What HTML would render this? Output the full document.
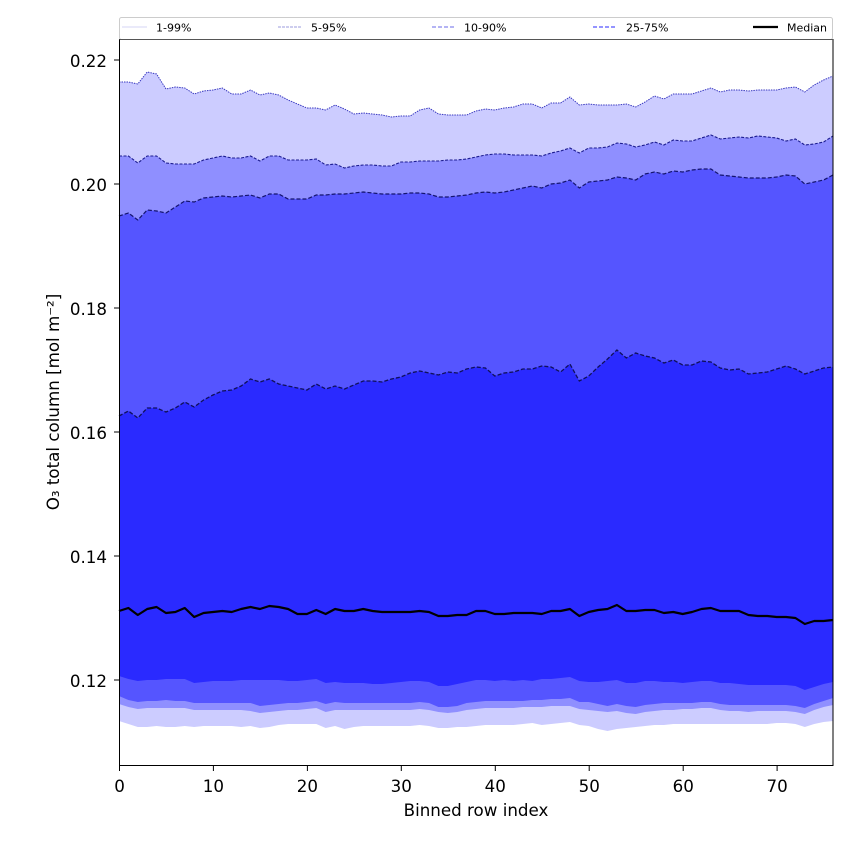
<!DOCTYPE html>
<html><head><meta charset="utf-8"><style>
html,body{margin:0;padding:0;background:#fff;}
svg{display:block;}
text{font-family:"DejaVu Sans","Liberation Sans",sans-serif;fill:#000;}
</style></head><body>
<svg width="850" height="850" viewBox="0 0 850 850" xmlns="http://www.w3.org/2000/svg">
<rect width="850" height="850" fill="#fff"/>
<g id="plot" transform="matrix(9.3947 0 0 1 119 0)"></g>
<g transform="matrix(9.3947 0 0 1 119 0)">
<polygon fill="#ccccff" points="0,82 1,82 2,84 3,72 4,74 5,89 6,87 7,88 8,94 9,91 10,90 11,88 12,94 13,94 14,90 15,95 16,93 17,95 18,100 19,104 20,108 21,108 22,110 23,105 24,109 25,114 26,113 27,114 28,115 29,117 30,116 31,116 32,110 33,108 34,114 35,115 36,115 37,115 38,111 39,109 40,110 41,108 42,107 43,104 44,104 45,108 46,103 47,103 48,97 49,105 50,104 51,105 52,105 53,105 54,104 55,107 56,102 57,96 58,99 59,94 60,94 61,94 62,91 63,88 64,92 65,90 66,90 67,91 68,90 69,90 70,90 71,88 72,87 73,92 74,85 75,80 76,76 76,721 75,722 74,724 73,727 72,724 71,723 70,723 69,724 68,724 67,724 66,724 65,724 64,724 63,724 62,724 61,724 60,724 59,724 58,725 57,725 56,726 55,727 54,728 53,729 52,731 51,729 50,726 49,725 48,722 47,723 46,724 45,725 44,723 43,724 42,725 41,725 40,725 39,725 38,726 37,727 36,727 35,728 34,728 33,726 32,725 31,726 30,726 29,726 28,726 27,726 26,726 25,727 24,729 23,726 22,728 21,724 20,724 19,724 18,724 17,725 16,727 15,728 14,726 13,727 12,726 11,726 10,726 9,726 8,727 7,726 6,727 5,727 4,726 3,727 2,727 1,724 0,721"/>
<polygon fill="#8f8fff" points="0,156 1,156 2,163 3,156 4,156 5,163 6,164 7,164 8,164 9,160 10,158 11,156 12,158 13,158 14,156 15,161 16,156 17,156 18,160 19,160 20,160 21,159 22,165 23,164 24,168 25,166 26,165 27,165 28,166 29,166 30,162 31,162 32,161 33,161 34,161 35,160 36,160 37,159 38,157 39,155 40,154 41,154 42,155 43,155 44,155 45,156 46,153 47,151 48,148 49,153 50,148 51,148 52,147 53,143 54,144 55,147 56,145 57,142 58,145 59,140 60,141 61,141 62,138 63,135 64,139 65,138 66,137 67,138 68,136 69,137 70,138 71,141 72,139 73,145 74,144 75,142 76,136 76,705 75,707 74,710 73,714 72,712 71,711 70,711 69,711 68,711 67,712 66,711 65,711 64,710 63,708 62,708 61,709 60,709 59,710 58,710 57,711 56,712 55,714 54,713 53,711 52,712 51,711 50,710 49,709 48,706 47,706 46,706 45,707 44,707 43,707 42,708 41,708 40,708 39,708 38,709 37,710 36,712 35,713 34,712 33,710 32,709 31,710 30,710 29,710 28,710 27,710 26,710 25,710 24,710 23,710 22,712 21,708 20,709 19,710 18,710 17,711 16,712 15,713 14,711 13,710 12,710 11,710 10,710 9,710 8,710 7,708 6,708 5,708 4,708 3,708 2,709 1,707 0,704"/>
<polygon fill="#5555ff" points="0,216 1,213 2,220 3,210 4,211 5,213 6,207 7,201 8,202 9,198 10,197 11,196 12,197 13,196 14,195 15,198 16,194 17,194 18,199 19,199 20,199 21,195 22,195 23,194 24,194 25,193 26,192 27,193 28,194 29,194 30,194 31,193 32,193 33,194 34,197 35,197 36,196 37,195 38,193 39,192 40,193 41,192 42,190 43,188 44,186 45,188 46,184 47,183 48,180 49,188 50,182 51,181 52,180 53,177 54,178 55,180 56,174 57,172 58,174 59,171 60,172 61,170 62,169 63,169 64,175 65,176 66,177 67,178 68,178 69,178 70,177 71,175 72,176 73,184 74,182 75,180 76,175 76,698 75,701 74,704 73,708 72,706 71,705 70,705 69,705 68,705 67,705 66,705 65,705 64,704 63,702 62,702 61,703 60,703 59,703 58,703 57,704 56,705 55,707 54,706 53,704 52,706 51,704 50,702 49,702 48,698 47,699 46,699 45,700 44,700 43,701 42,701 41,701 40,701 39,701 38,702 37,703 36,706 35,707 34,707 33,703 32,702 31,703 30,703 29,703 28,703 27,703 26,703 25,703 24,703 23,702 22,704 21,701 20,702 19,703 18,703 17,704 16,705 15,706 14,703 13,703 12,703 11,703 10,703 9,703 8,703 7,701 6,701 5,700 4,701 3,701 2,702 1,700 0,696"/>
<polygon fill="#2a2aff" points="0,416 1,411 2,418 3,408 4,408 5,412 6,408 7,402 8,407 9,400 10,395 11,391 12,390 13,386 14,379 15,382 16,379 17,384 18,386 19,388 20,390 21,384 22,389 23,386 24,389 25,385 26,381 27,381 28,382 29,379 30,377 31,373 32,371 33,373 34,375 35,372 36,373 37,369 38,367 39,368 40,376 41,373 42,372 43,369 44,369 45,366 46,367 47,372 48,364 49,381 50,376 51,367 52,359 53,350 54,358 55,353 56,356 57,358 58,363 59,360 60,365 61,365 62,361 63,362 64,368 65,370 66,369 67,374 68,373 69,372 70,369 71,366 72,369 73,374 74,371 75,368 76,367 76,682 75,684 74,687 73,690 72,686 71,685 70,685 69,685 68,685 67,685 66,684 65,683 64,683 63,681 62,681 61,682 60,683 59,682 58,682 57,681 56,681 55,683 54,683 53,680 52,681 51,682 50,682 49,681 48,677 47,678 46,679 45,679 44,681 43,680 42,681 41,680 40,681 39,680 38,680 37,682 36,684 35,686 34,686 33,682 32,681 31,681 30,682 29,683 28,684 27,684 26,683 25,683 24,683 23,682 22,683 21,679 20,680 19,681 18,681 17,680 16,680 15,680 14,680 13,680 12,681 11,681 10,681 9,682 8,683 7,679 6,679 5,679 4,680 3,680 2,681 1,679 0,676"/>
<g fill="none" vector-effect="non-scaling-stroke">
<polyline stroke="#3a3ac0" stroke-width="1" vector-effect="non-scaling-stroke" stroke-dasharray="1.5,1" points="0,82 1,82 2,84 3,72 4,74 5,89 6,87 7,88 8,94 9,91 10,90 11,88 12,94 13,94 14,90 15,95 16,93 17,95 18,100 19,104 20,108 21,108 22,110 23,105 24,109 25,114 26,113 27,114 28,115 29,117 30,116 31,116 32,110 33,108 34,114 35,115 36,115 37,115 38,111 39,109 40,110 41,108 42,107 43,104 44,104 45,108 46,103 47,103 48,97 49,105 50,104 51,105 52,105 53,105 54,104 55,107 56,102 57,96 58,99 59,94 60,94 61,94 62,91 63,88 64,92 65,90 66,90 67,91 68,90 69,90 70,90 71,88 72,87 73,92 74,85 75,80 76,76"/>
<polyline stroke="#1c1c90" stroke-width="1.1" vector-effect="non-scaling-stroke" stroke-dasharray="3,1.5" points="0,156 1,156 2,163 3,156 4,156 5,163 6,164 7,164 8,164 9,160 10,158 11,156 12,158 13,158 14,156 15,161 16,156 17,156 18,160 19,160 20,160 21,159 22,165 23,164 24,168 25,166 26,165 27,165 28,166 29,166 30,162 31,162 32,161 33,161 34,161 35,160 36,160 37,159 38,157 39,155 40,154 41,154 42,155 43,155 44,155 45,156 46,153 47,151 48,148 49,153 50,148 51,148 52,147 53,143 54,144 55,147 56,145 57,142 58,145 59,140 60,141 61,141 62,138 63,135 64,139 65,138 66,137 67,138 68,136 69,137 70,138 71,141 72,139 73,145 74,144 75,142 76,136"/>
<polyline stroke="#14146e" stroke-width="1.2" vector-effect="non-scaling-stroke" stroke-dasharray="4,2" points="0,216 1,213 2,220 3,210 4,211 5,213 6,207 7,201 8,202 9,198 10,197 11,196 12,197 13,196 14,195 15,198 16,194 17,194 18,199 19,199 20,199 21,195 22,195 23,194 24,194 25,193 26,192 27,193 28,194 29,194 30,194 31,193 32,193 33,194 34,197 35,197 36,196 37,195 38,193 39,192 40,193 41,192 42,190 43,188 44,186 45,188 46,184 47,183 48,180 49,188 50,182 51,181 52,180 53,177 54,178 55,180 56,174 57,172 58,174 59,171 60,172 61,170 62,169 63,169 64,175 65,176 66,177 67,178 68,178 69,178 70,177 71,175 72,176 73,184 74,182 75,180 76,175"/>
<polyline stroke="#10105a" stroke-width="1.3" vector-effect="non-scaling-stroke" stroke-dasharray="4,2" points="0,416 1,411 2,418 3,408 4,408 5,412 6,408 7,402 8,407 9,400 10,395 11,391 12,390 13,386 14,379 15,382 16,379 17,384 18,386 19,388 20,390 21,384 22,389 23,386 24,389 25,385 26,381 27,381 28,382 29,379 30,377 31,373 32,371 33,373 34,375 35,372 36,373 37,369 38,367 39,368 40,376 41,373 42,372 43,369 44,369 45,366 46,367 47,372 48,364 49,381 50,376 51,367 52,359 53,350 54,358 55,353 56,356 57,358 58,363 59,360 60,365 61,365 62,361 63,362 64,368 65,370 66,369 67,374 68,373 69,372 70,369 71,366 72,369 73,374 74,371 75,368 76,367"/>
<polyline stroke="#000" stroke-width="2.2" stroke-linejoin="round" vector-effect="non-scaling-stroke" points="0,611 1,608 2,615 3,609 4,607 5,613 6,612 7,608 8,617 9,613 10,612 11,611 12,612 13,609 14,607 15,609 16,606 17,607 18,609 19,614 20,614 21,610 22,614 23,609 24,611 25,611 26,609 27,611 28,612 29,612 30,612 31,612 32,611 33,612 34,616 35,616 36,615 37,615 38,611 39,611 40,614 41,614 42,613 43,613 44,613 45,614 46,611 47,611 48,609 49,616 50,612 51,610 52,609 53,605 54,611 55,611 56,610 57,610 58,613 59,612 60,614 61,612 62,609 63,608 64,611 65,611 66,611 67,615 68,616 69,616 70,617 71,617 72,618 73,624 74,621 75,621 76,620"/>
</g>
</g>
<!-- axes frame -->
<rect x="119.5" y="39.5" width="713.5" height="726" fill="none" stroke="#000" stroke-width="1"/>
<!-- y ticks -->
<g stroke="#000" stroke-width="1">
<line x1="114" y1="680" x2="119" y2="680"/>
<line x1="114" y1="556" x2="119" y2="556"/>
<line x1="114" y1="432" x2="119" y2="432"/>
<line x1="114" y1="308" x2="119" y2="308"/>
<line x1="114" y1="184" x2="119" y2="184"/>
<line x1="114" y1="60" x2="119" y2="60"/>
<line x1="119.5" y1="766" x2="119.5" y2="771"/>
<line x1="213.4" y1="766" x2="213.4" y2="771"/>
<line x1="307.4" y1="766" x2="307.4" y2="771"/>
<line x1="401.3" y1="766" x2="401.3" y2="771"/>
<line x1="495.3" y1="766" x2="495.3" y2="771"/>
<line x1="589.2" y1="766" x2="589.2" y2="771"/>
<line x1="683.2" y1="766" x2="683.2" y2="771"/>
<line x1="777.1" y1="766" x2="777.1" y2="771"/>
</g>
<g font-size="16.7" text-anchor="end">
<text x="107" y="687">0.12</text>
<text x="107" y="563">0.14</text>
<text x="107" y="439">0.16</text>
<text x="107" y="315">0.18</text>
<text x="107" y="191">0.20</text>
<text x="107" y="67">0.22</text>
</g>
<g font-size="16.7" text-anchor="middle">
<text x="119.5" y="792">0</text>
<text x="213.4" y="792">10</text>
<text x="307.4" y="792">20</text>
<text x="401.3" y="792">30</text>
<text x="495.3" y="792">40</text>
<text x="589.2" y="792">50</text>
<text x="683.2" y="792">60</text>
<text x="777.1" y="792">70</text>
<text x="476" y="816">Binned row index</text>
</g>
<text font-size="16.7" text-anchor="middle" transform="translate(59,402) rotate(-90)">O₃ total column [mol m⁻²]</text>
<!-- legend -->
<rect x="119.5" y="17.5" width="713" height="22" rx="2" fill="#fff" fill-opacity="0.9" stroke="#cccccc" stroke-width="1"/>
<line x1="119.5" y1="39.5" x2="833" y2="39.5" stroke="#555" stroke-width="1"/>
<g stroke-width="1">
<line x1="122" y1="27" x2="147" y2="27" stroke="#d6d6f5" stroke-width="1"/>
<line x1="278" y1="27" x2="302" y2="27" stroke="#9b9bdd" stroke-width="1" stroke-dasharray="3,1"/>
<line x1="432" y1="27" x2="456" y2="27" stroke="#8888ee" stroke-width="1.3" stroke-dasharray="4,2"/>
<line x1="593" y1="27" x2="617" y2="27" stroke="#7070ff" stroke-width="1.6" stroke-dasharray="4,2"/>
<line x1="753" y1="27" x2="778" y2="27" stroke="#000" stroke-width="2.2"/>
</g>
<g font-size="11">
<text x="156" y="31.5">1-99%</text>
<text x="311" y="31.5">5-95%</text>
<text x="464" y="31.5">10-90%</text>
<text x="626" y="31.5">25-75%</text>
<text x="787" y="31.5">Median</text>
</g>
</svg>
</body></html>
